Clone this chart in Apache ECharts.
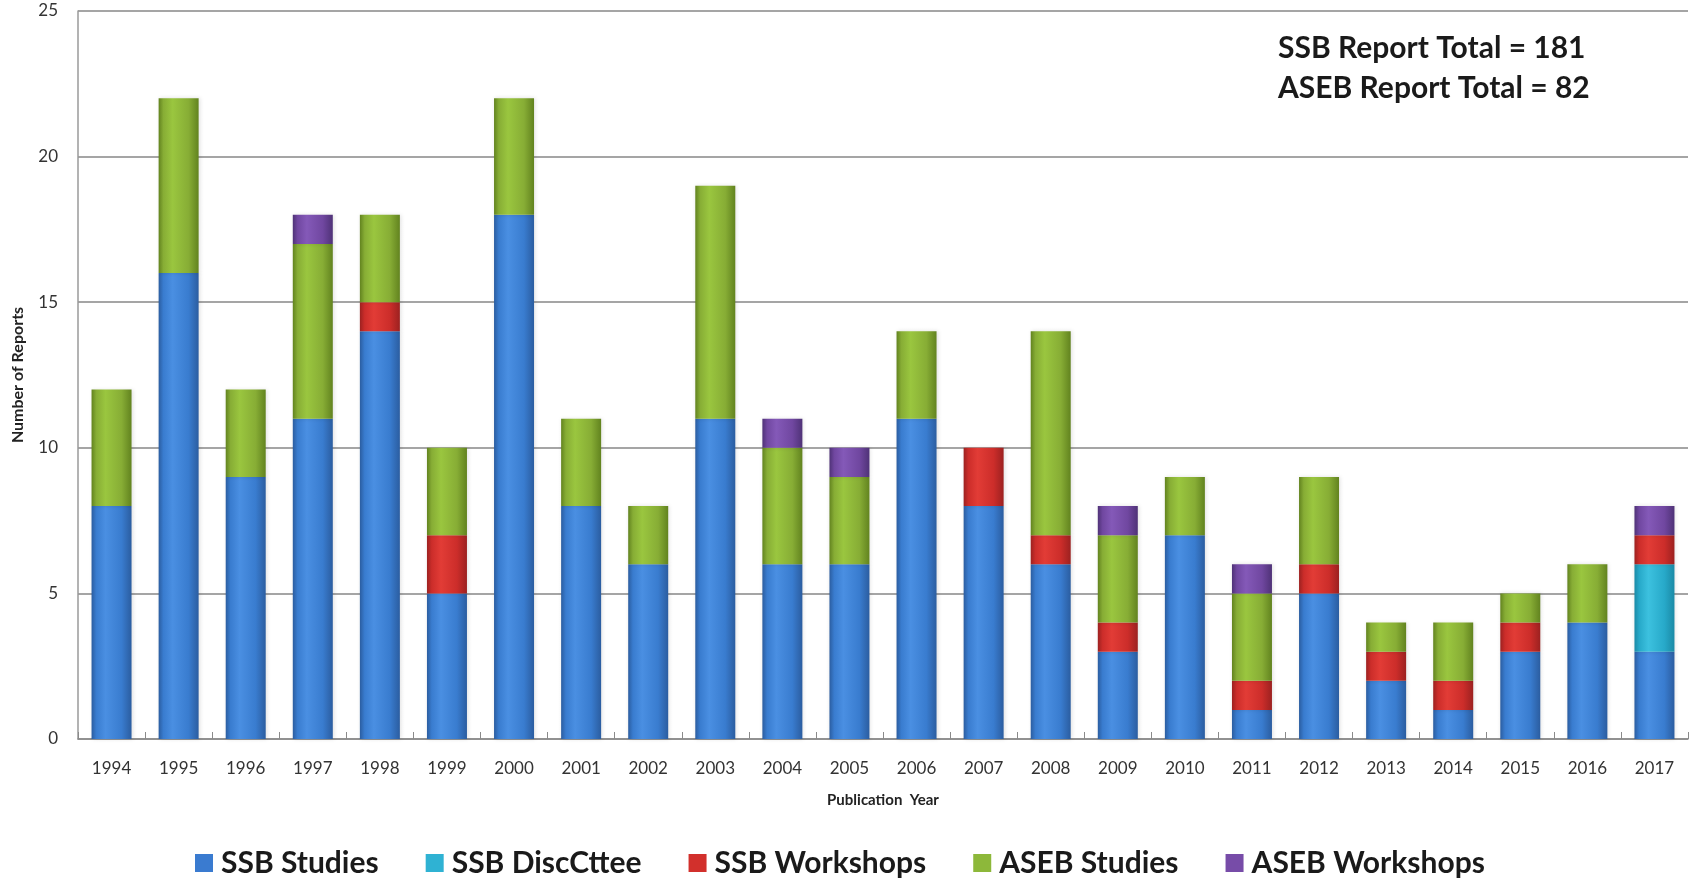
<!DOCTYPE html>
<html>
<head>
<meta charset="utf-8">
<style>
  html, body { margin: 0; padding: 0; background: #ffffff; }
  #chart { width: 1699px; height: 879px; }
</style>
<script src="https://cdn.jsdelivr.net/npm/echarts@6/dist/echarts.min.js"></script>
</head>
<body>
<div id="chart"></div>
<script>
// Publication years
const years = ['1994','1995','1996','1997','1998','1999','2000','2001','2002','2003','2004','2005',
               '2006','2007','2008','2009','2010','2011','2012','2013','2014','2015','2016','2017'];

// Reports per year, by category
const ssbStudies     = [8, 16, 9, 11, 14, 5, 18, 8, 6, 11, 6, 6, 11, 8, 6, 3, 7, 1, 5, 2, 1, 3, 4, 3];
const ssbDiscCttee   = [0, 0, 0, 0, 0, 0, 0, 0, 0, 0, 0, 0, 0, 0, 0, 0, 0, 0, 0, 0, 0, 0, 0, 3];
const ssbWorkshops   = [0, 0, 0, 0, 1, 2, 0, 0, 0, 0, 0, 0, 0, 2, 1, 1, 0, 1, 1, 1, 1, 1, 0, 1];
const asebStudies    = [4, 6, 3, 6, 3, 3, 4, 3, 2, 8, 4, 3, 3, 0, 7, 3, 2, 3, 3, 1, 2, 1, 2, 0];
const asebWorkshops  = [0, 0, 0, 1, 0, 0, 0, 0, 0, 0, 1, 1, 0, 0, 0, 1, 0, 1, 0, 0, 0, 0, 0, 1];

// Y axis ticks
const yMin = 0, yMax = 25, yStep = 5;

// Totals shown in the corner note
const noteLines = ['SSB Report Total = 181', 'ASEB Report Total = 82'];

const FONT = 'Lato, "Open Sans", sans-serif';

function barFill(edge, mid, light) {
  return new echarts.graphic.LinearGradient(0, 0, 1, 0, [
    { offset: 0, color: edge },
    { offset: 0.12, color: mid },
    { offset: 0.35, color: light },
    { offset: 0.75, color: mid },
    { offset: 1, color: edge }
  ]);
}

const seriesDefs = [
  { name: 'SSB Studies',    data: ssbStudies,    fill: barFill('#2b5da0', '#397ccf', '#4a8fe2'), legend: '#3a7bd0' },
  { name: 'SSB DiscCttee',  data: ssbDiscCttee,  fill: barFill('#1b8aa6', '#27a9c9', '#3cc1df'), legend: '#2fb2d3' },
  { name: 'SSB Workshops',  data: ssbWorkshops,  fill: barFill('#9c2120', '#cc2d2a', '#e23c36'), legend: '#d2302c' },
  { name: 'ASEB Studies',   data: asebStudies,   fill: barFill('#62831f', '#87ad35', '#9ac63f'), legend: '#8db83a' },
  { name: 'ASEB Workshops', data: asebWorkshops, fill: barFill('#4f3277', '#7047a0', '#8459b8'), legend: '#774ca8' }
];

const chart = echarts.init(document.getElementById('chart'), null, { renderer: 'canvas' });

chart.setOption({
  backgroundColor: '#ffffff',
  animation: false,
  grid: { left: 78, right: 11, top: 11, bottom: 140, containLabel: false },
  legend: {
    top: 843,
    left: 190,
    icon: 'rect',
    itemWidth: 18,
    itemHeight: 18,
    itemGap: 47,
    textStyle: { fontFamily: FONT, fontWeight: 'bold', fontSize: 30, color: '#1a1a1a', padding: [0, 0, 0, 3] },
    data: seriesDefs.map(s => ({ name: s.name, itemStyle: { color: s.legend } }))
  },
  xAxis: {
    type: 'category',
    data: years,
    name: 'Publication  Year',
    nameLocation: 'middle',
    nameGap: 54,
    nameTextStyle: { fontFamily: FONT, fontWeight: 'bold', fontSize: 15, color: '#222' },
    axisLine: { lineStyle: { color: '#8a8a8a', width: 1.5 } },
    axisTick: { show: true, inside: true, length: 7, alignWithLabel: false, lineStyle: { color: '#8a8a8a' } },
    axisLabel: { fontFamily: FONT, fontSize: 17, color: '#333', margin: 21 }
  },
  yAxis: {
    type: 'value',
    min: yMin,
    max: yMax,
    interval: yStep,
    name: 'Number of Reports',
    nameLocation: 'middle',
    nameGap: 52,
    nameRotate: 90,
    nameTextStyle: { fontFamily: FONT, fontWeight: 'bold', fontSize: 16, color: '#222' },
    axisLine: { show: true, lineStyle: { color: '#9a9a9a', width: 1.5 } },
    axisTick: { show: false },
    axisLabel: { fontFamily: FONT, fontSize: 17, color: '#333', margin: 20 },
    splitLine: { lineStyle: { color: '#a5a5a5', width: 2 } }
  },
  graphic: noteLines.map((t, i) => ({
    type: 'text',
    left: 1278,
    top: 33 + i * 40,
    style: { text: t, fontFamily: FONT, fontWeight: 'bold', fontSize: 30, fill: '#1a1a1a' }
  })),
  series: seriesDefs.map(s => ({
    name: s.name,
    type: 'bar',
    stack: 'reports',
    barWidth: 40,
    data: s.data,
    itemStyle: { color: s.fill, shadowColor: 'rgba(0,0,0,0.12)', shadowBlur: 4, shadowOffsetX: 1 }
  }))
});
</script>
</body>
</html>
